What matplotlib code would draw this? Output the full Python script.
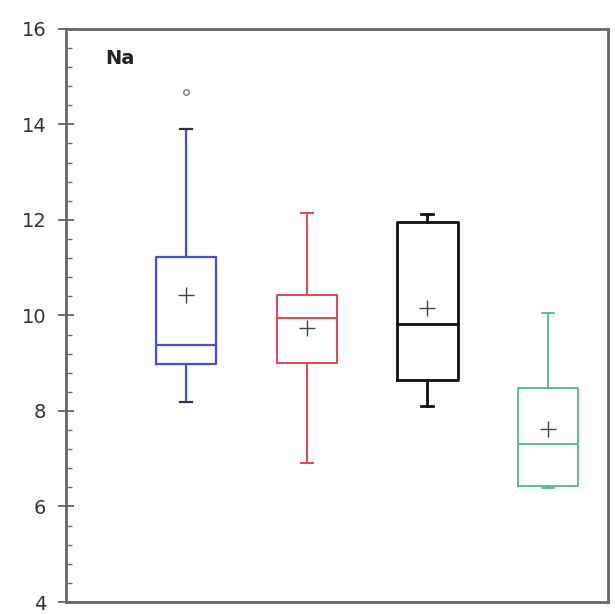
import numpy as np
import matplotlib
matplotlib.use("Agg")
import matplotlib.pyplot as plt
from matplotlib.ticker import MultipleLocator

# values (Na)
groups = ["G1", "G2", "G3", "G4"]
whislo = [8.19, 6.91, 8.10, 6.39]
q1 = [8.98, 9.00, 8.65, 6.43]
med = [9.38, 9.95, 9.82, 7.31]
q3 = [11.23, 10.43, 11.96, 8.48]
whishi = [13.91, 12.15, 12.13, 10.05]
means = [10.43, 9.74, 10.16, 7.62]
fliers = [[14.68], [], [], []]

colors = ["#4a4ae0", "#e8424f", "#111111", "#3fb383"]
widths_lw = [1.6, 1.4, 2.0, 1.2]

stats = []
for i in range(len(groups)):
    stats.append(dict(label=groups[i], whislo=whislo[i], q1=q1[i], med=med[i],
                      q3=q3[i], whishi=whishi[i], mean=means[i], fliers=fliers[i]))

fig = plt.figure(figsize=(6.15, 6.14), dpi=100)
ax = fig.add_axes([0.107, 0.0195, 0.882, 0.9335])

for i, s in enumerate(stats):
    c = colors[i]
    lw = widths_lw[i]
    ax.bxp([s], positions=[i + 1], widths=0.5, showmeans=True, showfliers=True,
           boxprops=dict(color=c, linewidth=lw),
           medianprops=dict(color=c, linewidth=lw),
           whiskerprops=dict(color=c, linewidth=lw),
           capprops=dict(color="#333333" if i == 0 else c, linewidth=lw),
           capwidths=0.1,
           meanprops=dict(marker="+", markersize=11, markeredgecolor="#444444",
                          markeredgewidth=1.0),
           flierprops=dict(marker="o", markersize=4, markeredgecolor="#777777",
                           markerfacecolor="none"))

ax.set_xlim(0, 4.5)
ax.set_ylim(4, 16)
ax.yaxis.set_major_locator(MultipleLocator(2))
ax.yaxis.set_minor_locator(MultipleLocator(0.4))
ax.set_xticks([])
ax.tick_params(axis="y", which="major", direction="inout", length=12, width=1.2,
               colors="#555555", labelsize=14, labelcolor="#333333", pad=8)
ax.tick_params(axis="y", which="minor", direction="in", length=4, width=1.0,
               colors="#666666")
for sp in ax.spines.values():
    sp.set_color("#666666")
    sp.set_linewidth(2)

ax.text(0.072, 0.965, "Na", transform=ax.transAxes, fontsize=14, fontweight="bold",
        va="top", ha="left", color="#222222")

fig.savefig("out.png", dpi=100)
